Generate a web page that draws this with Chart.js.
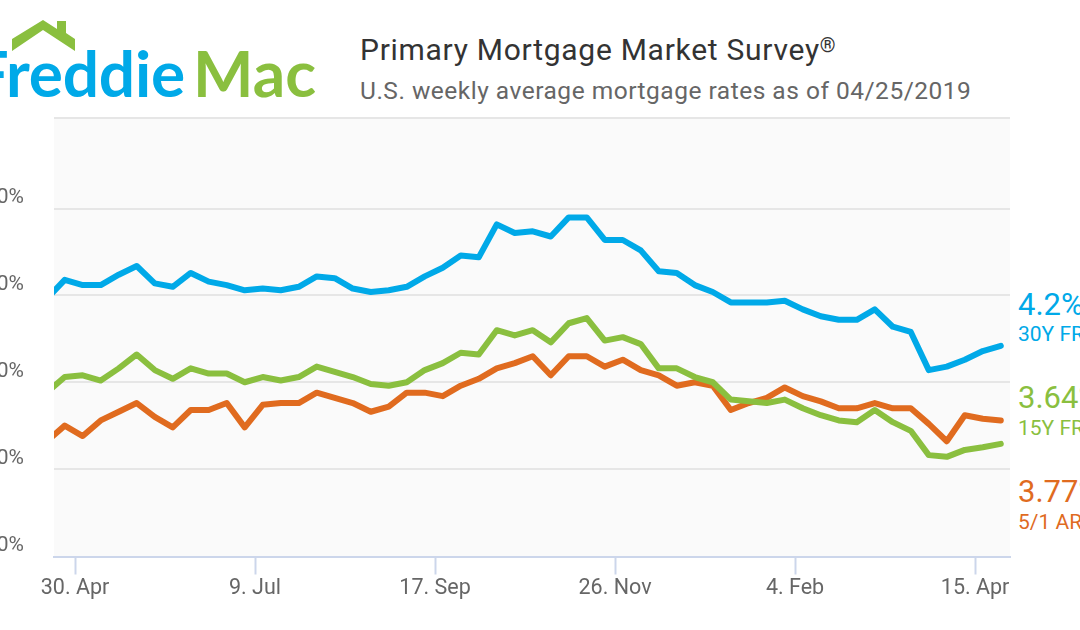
<!DOCTYPE html>
<html><head><meta charset="utf-8">
<script src="https://cdn.jsdelivr.net/npm/chart.js@4"></script>
<style>
html,body{margin:0;padding:0;background:#fff;width:1080px;height:630px;overflow:hidden;font-family:Roboto,sans-serif}
#wrap{position:absolute;left:-40px;top:0;width:1120px;height:630px}
.t{position:absolute;white-space:nowrap;line-height:1}
sup{font-size:.67em;line-height:0;vertical-align:baseline;position:relative;top:-.42em;letter-spacing:0}
</style></head><body>
<svg style="position:absolute;left:0;top:0" width="90" height="60"><polygon fill="#8abf3f" points="12,51 12,39 43,20 57,29 57,21 66,21 66,33 75,39 75,51 43,30"/></svg>
<div class="t" id="lf" style="right:895px;top:34px;font:700 64px Lato,sans-serif;color:#00a9e8;letter-spacing:-.2px">Freddie</div>
<div class="t" id="lm" style="left:193px;top:34px;font:700 64px Lato,sans-serif;color:#8abf3f">Mac</div>
<div class="t" style="left:360px;top:35px;font-size:30px;color:#333;letter-spacing:.72px">Primary Mortgage Market Survey<sup>®</sup></div>
<div class="t" style="left:360px;top:78.5px;font-size:24.5px;color:#666;letter-spacing:.5px">U.S. weekly average mortgage rates as of 04/25/2019</div>
<div id="side"></div>
<div id="wrap"><canvas id="c" width="1120" height="630"></canvas></div>
<script>
const weeks=["2018-04-19","2018-04-26","2018-05-03","2018-05-10","2018-05-17","2018-05-24","2018-05-31","2018-06-07","2018-06-14","2018-06-21","2018-06-28","2018-07-05","2018-07-12","2018-07-19","2018-07-26","2018-08-02","2018-08-09","2018-08-16","2018-08-23","2018-08-30","2018-09-06","2018-09-13","2018-09-20","2018-09-27","2018-10-04","2018-10-11","2018-10-18","2018-10-25","2018-11-01","2018-11-08","2018-11-15","2018-11-22","2018-11-29","2018-12-06","2018-12-13","2018-12-20","2018-12-27","2019-01-03","2019-01-10","2019-01-17","2019-01-24","2019-01-31","2019-02-07","2019-02-14","2019-02-21","2019-02-28","2019-03-07","2019-03-14","2019-03-21","2019-03-28","2019-04-04","2019-04-11","2019-04-18","2019-04-25"];
const frm30=[4.48,4.59,4.56,4.56,4.62,4.67,4.57,4.55,4.63,4.58,4.56,4.53,4.54,4.53,4.55,4.61,4.60,4.54,4.52,4.53,4.55,4.61,4.66,4.73,4.72,4.91,4.86,4.87,4.84,4.95,4.95,4.82,4.82,4.76,4.64,4.63,4.56,4.52,4.46,4.46,4.46,4.47,4.42,4.38,4.36,4.36,4.42,4.32,4.29,4.07,4.09,4.13,4.18,4.21];
const frm15=[3.94,4.03,4.04,4.01,4.08,4.16,4.07,4.02,4.08,4.05,4.05,4.00,4.03,4.01,4.03,4.09,4.06,4.03,3.99,3.98,4.00,4.07,4.11,4.17,4.16,4.30,4.27,4.30,4.23,4.34,4.37,4.24,4.26,4.22,4.08,4.08,4.03,4.00,3.90,3.89,3.88,3.90,3.85,3.81,3.78,3.77,3.84,3.77,3.72,3.58,3.57,3.61,3.625,3.645];
const arm51=[3.66,3.75,3.69,3.78,3.83,3.88,3.80,3.74,3.84,3.84,3.88,3.74,3.87,3.88,3.88,3.94,3.91,3.88,3.83,3.86,3.94,3.94,3.92,3.98,4.02,4.08,4.11,4.15,4.04,4.15,4.15,4.09,4.13,4.07,4.04,3.98,4.00,3.98,3.84,3.88,3.91,3.97,3.92,3.89,3.85,3.85,3.88,3.85,3.85,3.76,3.66,3.81,3.79,3.78];
const seriesNames=["30Y FRM","15Y FRM","5/1 ARM"];
const seriesColors=["#00a9e8","#8abf3f","#e06b1f"];
const xTickDates=["2018-04-30","2018-07-09","2018-09-17","2018-11-26","2019-02-04","2019-04-15"];
const xTickLabels=["30. Apr","9. Jul","17. Sep","26. Nov","4. Feb","15. Apr"];
const yTicks=[3,3.5,4,4.5,5,5.523];
const yTickLabels=["3.00%","3.50%","4.00%","4.50%","5.00%",""];
const xMinDate="2018-04-21T20:00:00Z", xMaxDate="2019-04-28T14:00:00Z";

const DAY=864e5, ms=s=>Date.parse(s);
const toPts=a=>a.map((v,i)=>({x:ms(weeks[i])/DAY,y:v}));
const xTicks=xTickDates.map(d=>ms(d)/DAY);
const sets=[frm30,frm15,arm51];
const side=document.getElementById('side');
const sideTop=[[289,324],[382,418],[476,512]];
const valTxt=["4.2%","3.64%","3.77%"];
sets.forEach((a,i)=>{
  side.insertAdjacentHTML('beforeend',
   `<div class="t" style="left:1018px;top:${sideTop[i][0]}px;font-size:31px;color:${seriesColors[i]}">${valTxt[i]}</div>`+
   `<div class="t" style="left:1018px;top:${sideTop[i][1]}px;font-size:21px;color:${seriesColors[i]}">${seriesNames[i]}</div>`);
});
const bg={id:'bg',beforeDraw(ch){const a=ch.chartArea,c=ch.ctx;c.save();c.fillStyle='#fafafa';c.fillRect(a.left,a.top,a.right-a.left,a.bottom-a.top);c.restore();}};
new Chart(document.getElementById('c'),{
 type:'line',
 data:{datasets:sets.map((a,i)=>({label:seriesNames[i],data:toPts(a),borderColor:seriesColors[i],backgroundColor:seriesColors[i],borderWidth:6,pointRadius:0,tension:0,borderCapStyle:'round',borderJoinStyle:'round',clip:0}))},
 options:{
  responsive:false,animation:false,
  layout:{padding:{left:0,right:70,top:118,bottom:0}},
  plugins:{legend:{display:false},title:{display:false},tooltip:{enabled:false}},
  scales:{
   x:{type:'linear',min:ms(xMinDate)/DAY,max:ms(xMaxDate)/DAY,
     afterFit(s){s.height=73.5},
     afterBuildTicks(s){s.ticks=xTicks.map(v=>({value:v}))},
     border:{display:true,color:'#ccd6eb',width:2},
     grid:{drawOnChartArea:false,drawTicks:true,tickLength:18,tickColor:'#ccd6eb',tickWidth:2},
     ticks:{autoSkip:false,maxRotation:0,padding:1,color:'#666',font:{family:'Roboto',size:21.5},callback:(v)=>xTickLabels[xTicks.indexOf(v)]}},
   y:{type:'linear',min:2.9957,max:5.523,
     afterFit(s){s.width=94},
     afterBuildTicks(s){s.ticks=yTicks.map(v=>({value:v}))},
     border:{display:false},
     grid:{color:c=>c.tick&&c.tick.value===3?'rgba(0,0,0,0)':'#e6e6e6',lineWidth:2,drawTicks:false},
     ticks:{autoSkip:false,align:'end',padding:30,color:'#666',font:{family:'Roboto',size:21},callback:(v)=>yTickLabels[yTicks.indexOf(v)]}}
  }
 },
 plugins:[bg]
});
</script></body></html>
